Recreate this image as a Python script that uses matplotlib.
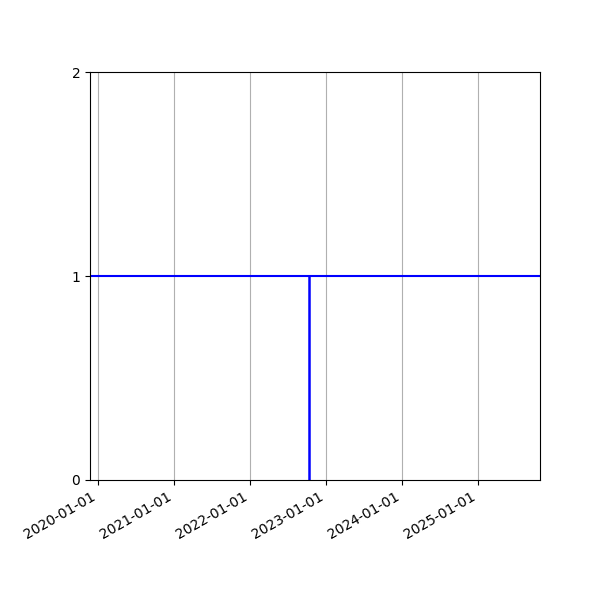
#!/usr/bin/env python3
"""Constant level line with a single event marker on a date axis."""
import datetime as dt

import matplotlib
matplotlib.use("Agg")
import matplotlib.dates as mdates
import matplotlib.pyplot as plt

LEVEL = 1
EVENT_DATES = [dt.date(2022, 10, 11)]
EVENT_LOW = [0]
EVENT_HIGH = [1]
X_START = dt.date(2019, 11, 24)
X_END = dt.date(2025, 10, 26)
Y_TICKS = [0, 1, 2]


def main():
    fig, ax = plt.subplots(figsize=(6, 6), dpi=100)

    ax.axhline(LEVEL, color="blue", linewidth=1.5)
    ax.vlines(EVENT_DATES, EVENT_LOW, EVENT_HIGH, color="blue", linewidth=1.8)

    ax.set_xlim(X_START, X_END)
    ax.set_ylim(Y_TICKS[0], Y_TICKS[-1])
    ax.set_yticks(Y_TICKS)
    ax.xaxis.set_major_locator(mdates.YearLocator())
    ax.xaxis.set_major_formatter(mdates.DateFormatter("%Y-%m-%d"))
    ax.grid(axis="x")

    fig.autofmt_xdate()
    fig.subplots_adjust(left=0.15)
    fig.savefig("out.png")
    plt.close(fig)


if __name__ == "__main__":
    main()
